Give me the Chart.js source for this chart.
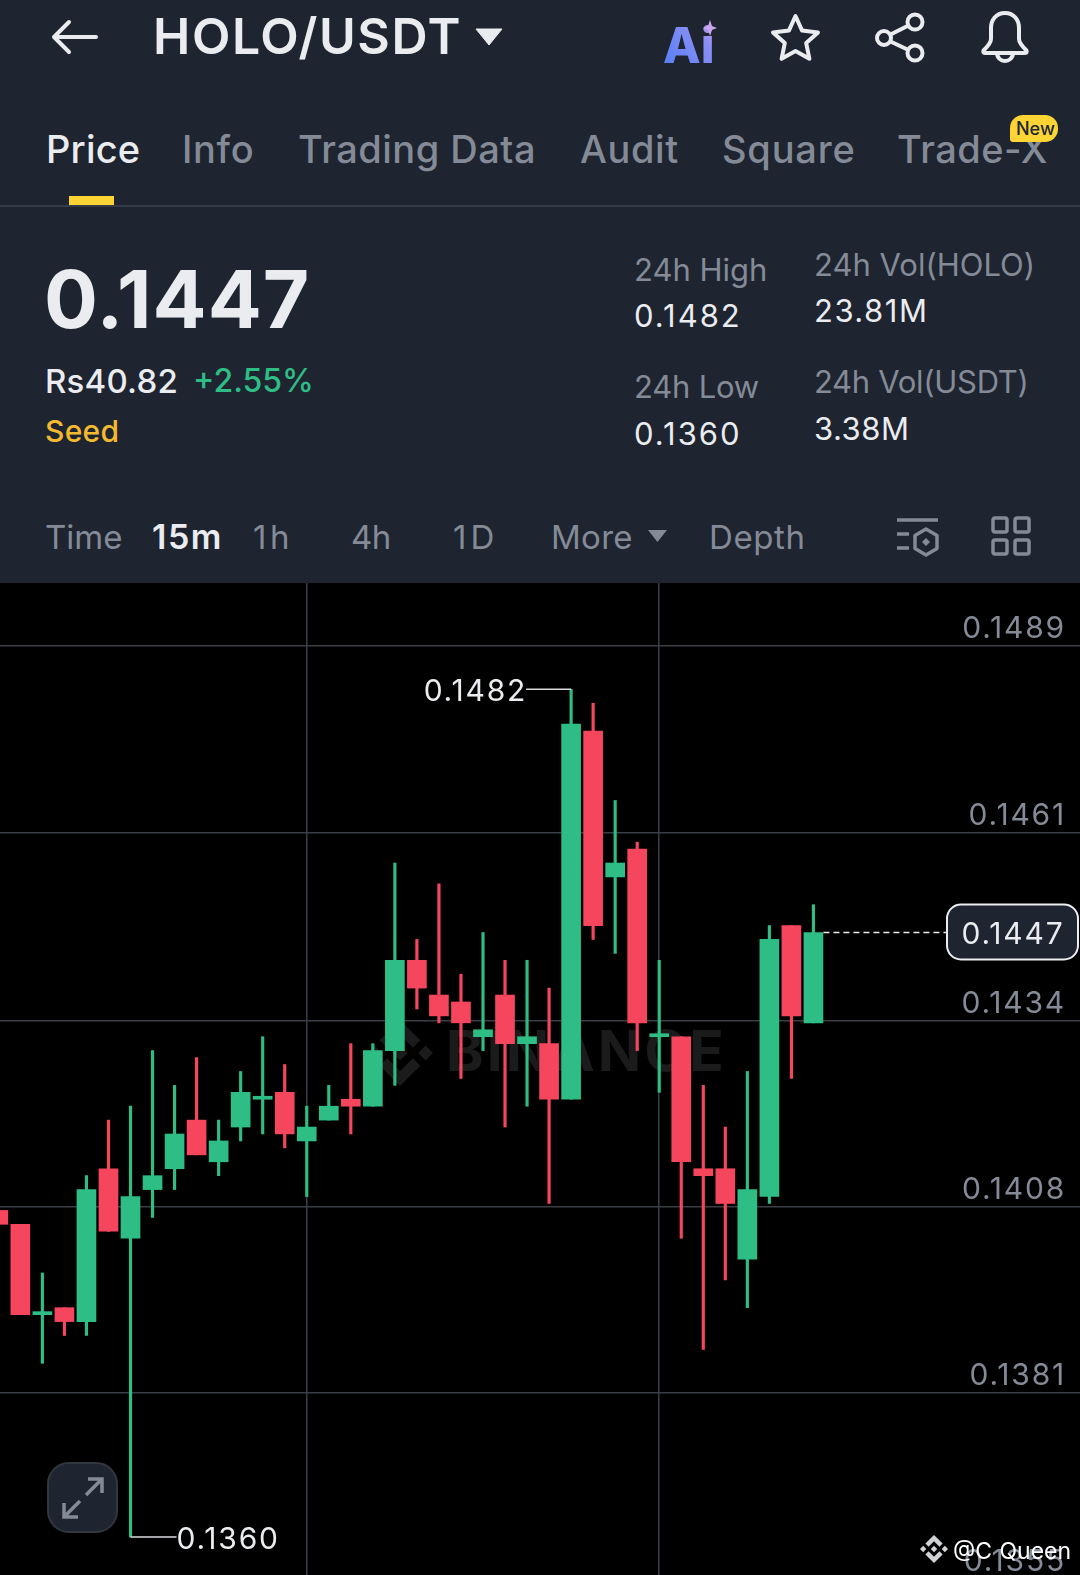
<!DOCTYPE html>
<html>
<head>
<meta charset="utf-8">
<script src="https://cdn.jsdelivr.net/npm/chart.js@4/dist/chart.umd.min.js"></script>
<style>
  html, body { margin: 0; padding: 0; background: #000; }
  #page { position: relative; width: 1080px; height: 1575px; overflow: hidden; background: #1e2430; font-family: Inter, sans-serif; }
  .t { position: absolute; transform: translateY(-50%); white-space: nowrap; line-height: 1; color: #848b97; }
  .w { color: #eaecef; }
  svg { position: absolute; overflow: visible; }
  #chartBox { position: absolute; left: 0; top: 583px; width: 1080px; height: 992px; background: #000; }
  #chart { position: absolute; left: 0; top: 0; }
</style>
</head>
<body>
<div id="page">
  <!-- top bar -->
  <svg style="left:52px;top:20px" width="46" height="34" fill="none" stroke="#eaecef" stroke-width="4" stroke-linecap="round" stroke-linejoin="round"><path d="M44 17H3M17 2L2 17l15 15"/></svg>
  <div class="t w" style="left:153px;top:36px;font-size:50px;font-weight:600;letter-spacing:1.600px">HOLO/USDT</div>
  <svg style="left:475px;top:28px" width="28" height="18"><path d="M1 1h26L14 17z" fill="#eaecef" stroke="#eaecef" stroke-linejoin="round"/></svg>
  <svg style="left:663px;top:20px" width="56" height="44">
    <defs><linearGradient id="ai" x1="0" y1="1" x2="1" y2="0"><stop offset="0" stop-color="#4f7cf7"/><stop offset="0.7" stop-color="#8a8ff5"/><stop offset="1" stop-color="#e0a8e8"/></linearGradient></defs>
    <text x="0" y="43" font-family="Inter" font-weight="800" font-size="49" fill="url(#ai)">Ai</text>
    <path d="M47 0l2 6 5 2-5 2-2 6-2-6-5-2 5-2z" fill="#c9a6ee"/>
  </svg>
  <svg style="left:770px;top:13px" width="51" height="49" viewBox="0 0 51 49" fill="none" stroke="#eaecef" stroke-width="4" stroke-linejoin="round"><path d="M25.500 3l6.600 14.600 15.900 1.800-11.800 10.700 3.200 15.700-13.900-7.900-13.900 7.900 3.200-15.700L3 19.400l15.900-1.800z"/></svg>
  <svg style="left:875px;top:13px" width="50" height="49" fill="none" stroke="#eaecef" stroke-width="4"><circle cx="9" cy="25" r="7"/><circle cx="40" cy="9" r="7.500"/><circle cx="40" cy="40" r="7.500"/><path d="M15.500 21.500L33.500 12.500M15.500 28.500L33.500 37"/></svg>
  <svg style="left:980px;top:11px" width="50" height="51" fill="none" stroke="#eaecef" stroke-width="4" stroke-linejoin="round"><path d="M25 2c-9 0-14 7-14 15v11c0 4-4 8-7 11 -1 1-1 3 1 3h40c2 0 2-2 1-3-3-3-7-7-7-11V17c0-8-5-15-14-15z"/><path d="M17 42c0 5 4 8 8 8s8-3 8-8"/></svg>

  <!-- tabs -->
  <div class="t w" style="left:46px;top:149px;font-size:38px;font-weight:500;letter-spacing:.2px">Price</div>
  <div class="t" style="left:182px;top:149px;font-size:38px;font-weight:500;letter-spacing:.7px">Info</div>
  <div class="t" style="left:298px;top:149px;font-size:38px;font-weight:500;letter-spacing:.5px">Trading Data</div>
  <div class="t" style="left:580px;top:149px;font-size:38px;font-weight:500;letter-spacing:.6px">Audit</div>
  <div class="t" style="left:722px;top:149px;font-size:38px;font-weight:500;letter-spacing:.8px">Square</div>
  <div class="t" style="left:897px;top:149px;font-size:38px;font-weight:500;letter-spacing:.5px">Trade-X</div>
  <div style="position:absolute;left:1010px;top:115px;width:48px;height:27px;border-radius:13px 13px 13px 3px;background:#fcd535"></div>
  <div class="t" style="left:1016px;top:129px;font-size:18px;font-weight:500;color:#202630">New</div>
  <div style="position:absolute;left:69px;top:196px;width:45px;height:9px;background:#fcd535"></div>
  <div style="position:absolute;left:0;top:205px;width:1080px;height:2px;background:#353b46"></div>

  <!-- price block -->
  <div class="t w" style="left:44px;top:299px;font-size:80px;font-weight:700;letter-spacing:1px">0.1447</div>
  <div class="t w" style="left:45px;top:381px;font-size:33px;font-weight:500;letter-spacing:.2px">Rs40.82</div>
  <div class="t" style="left:193px;top:381px;font-size:32px;font-weight:500;color:#2ebd85">+2.55%</div>
  <div class="t" style="left:45px;top:431px;font-size:30px;font-weight:500;color:#f3ba2f;letter-spacing:.3px">Seed</div>
  <div class="t" style="left:634px;top:269px;font-size:31px">24h High</div>
  <div class="t w" style="left:634px;top:315px;font-size:31px;letter-spacing:2px">0.1482</div>
  <div class="t" style="left:634px;top:386px;font-size:31px;letter-spacing:-.2px">24h Low</div>
  <div class="t w" style="left:634px;top:433px;font-size:31px;letter-spacing:2px">0.1360</div>
  <div class="t" style="left:814px;top:264px;font-size:31px">24h Vol(HOLO)</div>
  <div class="t w" style="left:814px;top:310px;font-size:31px;letter-spacing:1.500px">23.81M</div>
  <div class="t" style="left:814px;top:381px;font-size:31px;letter-spacing:-.3px">24h Vol(USDT)</div>
  <div class="t w" style="left:814px;top:428px;font-size:31px;letter-spacing:.5px">3.38M</div>

  <!-- interval row -->
  <div class="t" style="left:45px;top:537px;font-size:33px">Time</div>
  <div class="t w" style="left:152px;top:537px;font-size:34px;font-weight:600;letter-spacing:1.500px">15m</div>
  <div class="t" style="left:253px;top:537px;font-size:33px;letter-spacing:3.500px">1h</div>
  <div class="t" style="left:351px;top:537px;font-size:33px;letter-spacing:-.5px">4h</div>
  <div class="t" style="left:453px;top:537px;font-size:33px;letter-spacing:4px">1D</div>
  <div class="t" style="left:551px;top:537px;font-size:33px;letter-spacing:.3px">More</div>
  <svg style="left:647px;top:529px" width="21" height="14"><path d="M1 1h19L10.500 13z" fill="#848b97"/></svg>
  <div class="t" style="left:709px;top:537px;font-size:33px;letter-spacing:.6px">Depth</div>
  <svg style="left:897px;top:518px" width="42" height="40" fill="none" stroke="#848b97" stroke-width="3.500" stroke-linejoin="round"><path d="M0 2h41M0 16h12M0 30h12"/><path d="M29 11l11 6.500v13L29 37l-11-6.500v-13z"/><path d="M29 20l4 4-4 4-4-4z" fill="#848b97" stroke="none"/></svg>
  <svg style="left:991px;top:516px" width="40" height="40" fill="none" stroke="#848b97" stroke-width="3.500" stroke-linejoin="round"><rect x="2" y="2" width="14" height="14" rx="2"/><rect x="24" y="2" width="14" height="14" rx="2"/><rect x="2" y="24" width="14" height="14" rx="2"/><rect x="24" y="24" width="14" height="14" rx="2"/></svg>

  <!-- chart -->
  <div id="chartBox">
    <svg style="left:367px;top:437px" width="66" height="66" viewBox="0 0 126.610 126.610" fill="#1b1b1b"><path d="M38.730 53.200l24.590-24.580 24.600 24.600 14.300-14.310L63.320 0 24.420 38.900zM0 63.310l14.300-14.310 14.310 14.310-14.310 14.300zM38.730 73.410l24.590 24.590 24.600-24.600 14.310 14.290-38.900 38.910-38.910-38.880zM98 63.310l14.300-14.310 14.310 14.300-14.310 14.320zM77.830 63.300L63.320 48.780 52.590 59.510l-1.240 1.230-2.540 2.540 14.510 14.500 14.510-14.470z"/></svg>
    <div class="t" style="left:446px;top:467px;font-size:57px;font-weight:700;letter-spacing:3px;color:#1b1b1b">BINANCE</div>
    <canvas id="chart" width="1080" height="992"></canvas>
    <!-- expand button -->
    <div style="position:absolute;left:47px;top:879px;width:67px;height:67px;border-radius:22px;background:#1e2430;border:2px solid #31363f"></div>
    <svg style="left:62px;top:894px" width="42" height="42" fill="none" stroke="#848b97" stroke-width="3.500"><path d="M24 18L40 2M26 2h14v14M18 24L2 40M2 26v14h14"/></svg>
  </div>

  <!-- repost credit -->
  <svg style="left:920px;top:1535px" width="28" height="28" viewBox="0 0 126.610 126.610" fill="#d0d2d6"><path d="M38.730 53.200l24.590-24.580 24.600 24.600 14.300-14.310L63.320 0 24.420 38.900zM0 63.310l14.300-14.310 14.310 14.310-14.310 14.300zM38.730 73.410l24.590 24.590 24.600-24.600 14.310 14.290-38.900 38.910-38.910-38.880zM98 63.310l14.300-14.310 14.310 14.300-14.310 14.320zM77.830 63.300L63.320 48.780 52.590 59.510l-1.240 1.230-2.540 2.540 14.510 14.500 14.510-14.470z"/></svg>
  <div class="t" style="left:953px;top:1551px;font-size:23px;color:#fff;word-spacing:1px">@C Queen</div>
</div>

<script>
// candles, oldest first
const opens  = [.1407,.1405,.1392,.1393,.1391,.1413,.1403,.1410,.1413,.1420,.1414,.1419,.1423,.1424,.1417,.1420,.1423,.1422,.1430,.1443,.1438,.1437,.1432,.1438,.1431,.1431,.1423,.1476,.1455,.1459,.1432,.1432,.1413,.1413,.1400,.1409,.1448,.1434]
const highs  = [.1407,.1405,.1398,.1393,.1412,.1420,.1422,.1430,.1425,.1429,.1420,.1427,.1432,.1428,.1422,.1425,.1431,.1431,.1457,.1446,.1454,.1441,.1447,.1443,.1443,.1439,.1482,.1480,.1466,.1460,.1443,.1432,.1425,.1419,.1427,.1448,.1448,.1451]
const lows   = [.1405,.1392,.1385,.1389,.1389,.1404,.1360,.1406,.1410,.1415,.1412,.1417,.1418,.1416,.1409,.1420,.1418,.1422,.1425,.1436,.1434,.1426,.1430,.1419,.1422,.1408,.1423,.1446,.1444,.1430,.1424,.1403,.1387,.1397,.1393,.1408,.1426,.1434]
const closes = [.1405,.1392,.13924,.1391,.1410,.1404,.1409,.1412,.1418,.1415,.1417,.1424,.14234,.1418,.1419,.1422,.1422,.1430,.1443,.1439,.1435,.1434,.1433,.1431,.1432,.1423,.1477,.1448,.1457,.1434,.14324,.1414,.1412,.1408,.1410,.1446,.1435,.1447]

// y axis
const gridPrices = [.14882,.14613,.14343,.14075,.13807,.13539]
const priceLabels = ['0.1489','0.1461','0.1434','0.1408','0.1381','0.1355']
const gridCandles = [14,30]

const lastPrice = 0.1447
const lastLabel = '0.1447'
const highLabel = '0.1482'
const lowLabel = '0.1360'

const GREEN = '#2ebd85'
const RED = '#f6465d'
const colors = closes.map((c, i) => c >= opens[i] ? GREEN : RED)

// the app's digits run wider than Inter's, canvas letter spacing makes up for it
const wideDigits = {
  id: 'wideDigits',
  beforeDraw(chart) {
    chart.ctx.letterSpacing = '1.8px'
  }
}

// high, low and last price markers
const markers = {
  id: 'markers',
  afterDatasetsDraw(chart) {
    const {ctx, scales: {x, y}} = chart
    const hi = Math.max(...highs), lo = Math.min(...lows)
    const hiX = x.getPixelForValue(highs.indexOf(hi)), hiY = y.getPixelForValue(hi)
    const loX = x.getPixelForValue(lows.indexOf(lo)), loY = y.getPixelForValue(lo)
    const lastX = x.getPixelForValue(closes.length - 1) + 10, lastY = y.getPixelForValue(lastPrice)

    ctx.save()
    ctx.font = '30px Inter'
    ctx.textBaseline = 'middle'
    ctx.strokeStyle = '#d8dade'
    ctx.lineWidth = 1.5
    ctx.beginPath()
    ctx.moveTo(hiX - 45, hiY)
    ctx.lineTo(hiX, hiY)
    ctx.moveTo(loX, loY)
    ctx.lineTo(loX + 46, loY)
    ctx.stroke()

    ctx.fillStyle = '#eaecef'
    ctx.textAlign = 'right'
    ctx.fillText(highLabel, hiX - 44, hiY + 3)
    ctx.textAlign = 'left'
    ctx.fillText(lowLabel, loX + 46, loY + 3)

    // last price line and box
    ctx.strokeStyle = '#eaecef'
    ctx.setLineDash([6, 4])
    ctx.beginPath()
    ctx.moveTo(lastX, lastY)
    ctx.lineTo(947, lastY)
    ctx.stroke()
    ctx.setLineDash([])
    ctx.fillStyle = '#1e2430'
    ctx.lineWidth = 2
    ctx.beginPath()
    ctx.roundRect(947, lastY - 28, 131, 55, 14)
    ctx.fill()
    ctx.stroke()
    ctx.fillStyle = '#eaecef'
    ctx.textAlign = 'center'
    ctx.fillText(lastLabel, 1013, lastY + 2)
    ctx.restore()
  }
}

new Chart(document.getElementById('chart').getContext('2d'), {
  type: 'bar',
  data: {
    datasets: [
      {
        data: opens.map((o, i) => ({x: i, y: [o, closes[i]]})),
        backgroundColor: colors,
        barThickness: 19,
        minBarLength: 3,
        grouped: false
      },
      {
        data: lows.map((l, i) => ({x: i, y: [l, highs[i]]})),
        backgroundColor: colors,
        barThickness: 2.5,
        grouped: false
      }
    ]
  },
  plugins: [wideDigits, markers],
  options: {
    responsive: false,
    animation: false,
    layout: {padding: 0},
    plugins: {legend: {display: false}, tooltip: {enabled: false}},
    scales: {
      x: {
        type: 'linear',
        offset: false,
        min: 0.0758,
        max: 49.1,
        afterBuildTicks: axis => { axis.ticks = gridCandles.map(v => ({value: v})) },
        ticks: {display: false},
        border: {display: false},
        grid: {offset: false, color: '#3a3e46', lineWidth: 1.5, drawTicks: false}
      },
      y: {
        position: 'right',
        min: 0.135453,
        max: 0.14973,
        afterBuildTicks: axis => { axis.ticks = gridPrices.map(v => ({value: v})) },
        afterFit: axis => {
          axis.width = 0
          axis.paddingTop = 0
          axis.paddingBottom = 0
        },
        border: {display: false},
        grid: {color: '#3a3e46', lineWidth: 1.5, drawTicks: false},
        ticks: {
          mirror: true,
          padding: -14,
          labelOffset: -17,
          color: '#848b97',
          font: {family: 'Inter', size: 30},
          callback: (v, i) => priceLabels[i]
        }
      }
    }
  }
})
</script>
</body>
</html>
